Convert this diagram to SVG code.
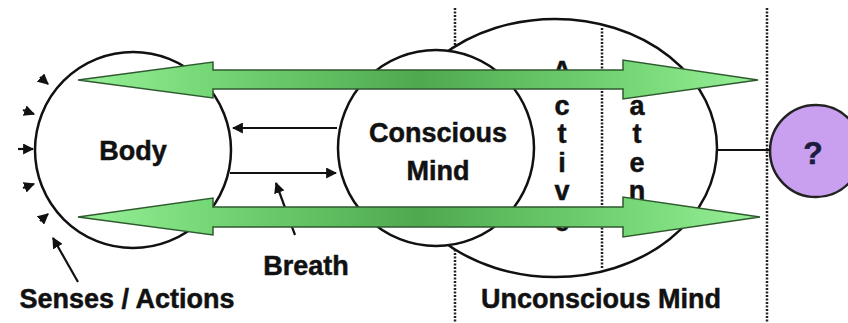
<svg xmlns="http://www.w3.org/2000/svg" width="848" height="323" viewBox="0 0 848 323">
<defs>
<style>
.t{font-family:"Liberation Sans",Arial,sans-serif;font-weight:bold;fill:#111;stroke:#111;stroke-width:0.5;}
.node{fill:#fff;stroke:#111;stroke-width:2.5;}
.dot{stroke:#222;stroke-width:2.5;stroke-dasharray:2 1.5;fill:none;}
.ln{stroke:#111;stroke-width:2.2;fill:none;}
.green{stroke:#2f5a2f;stroke-width:1.5;stroke-linejoin:miter;}
</style>
<linearGradient id="g" gradientUnits="userSpaceOnUse" x1="78" y1="0" x2="760" y2="0">
<stop offset="0" stop-color="#98f098"/>
<stop offset="0.2" stop-color="#74d674"/>
<stop offset="0.5" stop-color="#4fa94f"/>
<stop offset="0.8" stop-color="#74d674"/>
<stop offset="1" stop-color="#98f098"/>
</linearGradient>
<marker id="ah" viewBox="0 0 10 10" refX="9" refY="5" markerWidth="5" markerHeight="5" orient="auto" markerUnits="strokeWidth">
<path d="M0,0 L10,5 L0,10 Z" fill="#111"/>
</marker>
</defs>
<rect width="848" height="323" fill="#fff"/>

<g id="dividers">
<line class="dot" x1="455" y1="8" x2="455" y2="323"/>
<line class="dot" x1="767" y1="8" x2="767" y2="323"/>
</g>

<g id="unconscious">
<ellipse class="node" cx="555" cy="148" rx="162" ry="129"/>
<line class="dot" x1="602" y1="28" x2="602" y2="268"/>
<g class="t" font-size="27" text-anchor="middle">
<text x="562" y="80">A</text><text x="562" y="115">c</text><text x="562" y="143">t</text><text x="562" y="172">i</text><text x="562" y="200">v</text><text x="562" y="231">e</text>
<text x="637" y="81">L</text><text x="637" y="115">a</text><text x="637" y="143">t</text><text x="637" y="172">e</text><text x="637" y="200">n</text><text x="637" y="231">t</text>
</g>
<text class="t" x="601" y="308" font-size="27" text-anchor="middle">Unconscious Mind</text>
</g>

<g id="body">
<circle class="node" cx="133" cy="150" r="98"/>
<text class="t" x="133" y="160" font-size="27" text-anchor="middle">Body</text>
</g>

<g id="conscious">
<circle class="node" cx="436" cy="148" r="98"/>
<text class="t" x="438" y="142" font-size="27" text-anchor="middle">Conscious</text>
<text class="t" x="438" y="180" font-size="27" text-anchor="middle">Mind</text>
</g>

<g id="unknown">
<circle cx="816" cy="151" r="46" fill="#c9a0f0" stroke="#222" stroke-width="2.5"/>
<text x="813" y="164" font-size="32" text-anchor="middle" font-family="Liberation Sans,Arial,sans-serif" font-weight="bold" fill="#1c1c3c" stroke="#1c1c3c" stroke-width="0.5">?</text>
</g>

<g id="labels">
<text class="t" x="306" y="275" font-size="27" text-anchor="middle">Breath</text>
<text class="t" x="127" y="308" font-size="27" text-anchor="middle">Senses / Actions</text>
</g>

<g id="connectors">
<line class="ln" x1="717" y1="150" x2="770" y2="150"/>
<line class="ln" x1="337" y1="128" x2="233" y2="128" marker-end="url(#ah)"/>
<line class="ln" x1="230" y1="173" x2="336" y2="173" marker-end="url(#ah)"/>
<line class="ln" x1="295" y1="235" x2="276" y2="183" marker-end="url(#ah)"/>
<line class="ln" x1="78" y1="282" x2="53" y2="238" marker-end="url(#ah)"/>
<g stroke="#111" stroke-width="2.2" fill="none">
<line x1="40" y1="77" x2="48" y2="84" marker-end="url(#ah)"/>
<line x1="23" y1="110" x2="34" y2="114" marker-end="url(#ah)"/>
<line x1="18" y1="149" x2="33" y2="149" marker-end="url(#ah)"/>
<line x1="23" y1="188" x2="34" y2="184" marker-end="url(#ah)"/>
<line x1="40" y1="221" x2="48" y2="214" marker-end="url(#ah)"/>
</g>
<path class="green" fill="url(#g)" d="M78,80 L213,62 L213,70 L623,70 L623,60 L758,80 L623,99 L623,89 L213,89 L213,98 Z"/>
<path class="green" fill="url(#g)" d="M78,217 L213,198 L213,207 L623,207 L623,197 L760,217 L623,237 L623,227 L213,227 L213,235 Z"/>
</g>
</svg>
